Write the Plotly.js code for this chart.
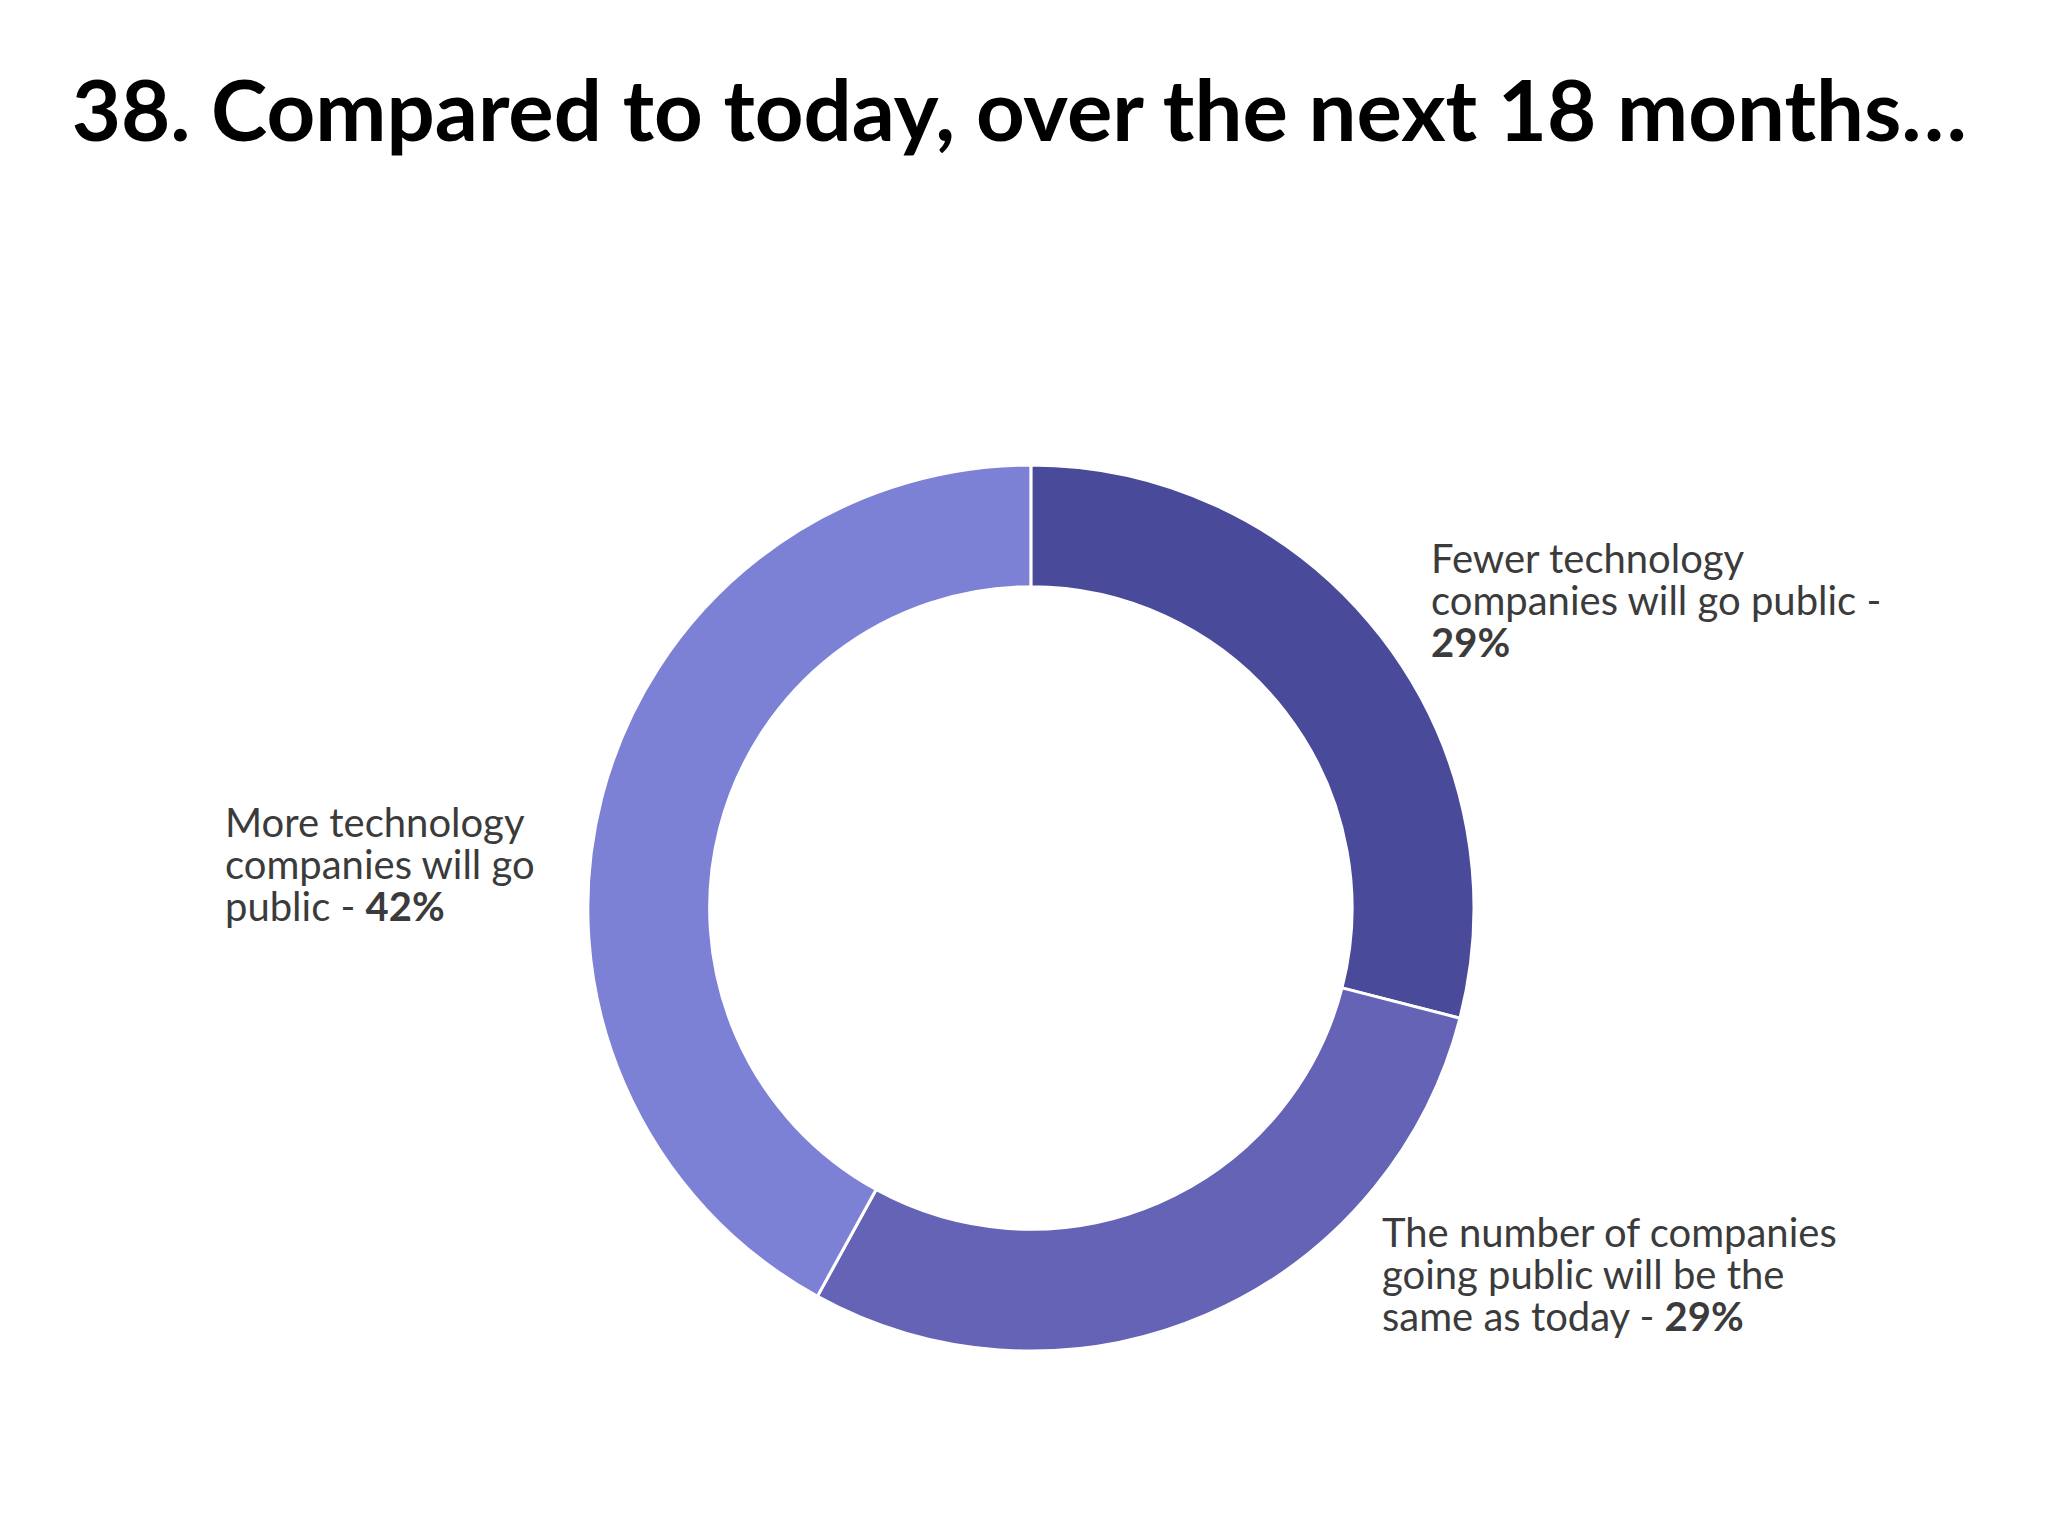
<!DOCTYPE html>
<html>
<head>
<meta charset="utf-8">
<script src="https://cdn.plot.ly/plotly-3.0.1.min.js"></script>
<style>
  body { margin: 0; background: #fff; }
  #chart { width: 2048px; height: 1536px; }
</style>
</head>
<body>
<div id="chart"></div>
<script>
// answers, clockwise from 12 o'clock
var answers = ['Fewer technology companies will go public',
               'The number of companies going public will be the same as today',
               'More technology companies will go public'];
var shares = [29, 29, 42];
var sliceColors = ['#4a4a9b', '#6563b5', '#7d81d5'];
// label text split the way the original wraps it
var labelLines = [
  ['Fewer technology', 'companies will go public -'],
  ['The number of companies', 'going public will be the', 'same as today -'],
  ['More technology', 'companies will go', 'public -']
];

var trace = {
  type: 'pie',
  labels: answers,
  values: shares,
  hole: 0.725,
  sort: false,
  direction: 'clockwise',
  rotation: 0,
  textinfo: 'none',
  hoverinfo: 'label+percent',
  marker: { colors: sliceColors, line: { color: '#ffffff', width: 3 } },
  domain: { x: [0.287, 0.7197], y: [0.1204, 0.6973] },
  showlegend: false
};

// label blocks: left edge (px), baseline of first line (px)
var labelPos = [
  { x: 1430, base: 573 },
  { x: 1381, base: 1247 },
  { x: 224, base: 837 }
];
var W = 2048, H = 1536, FS = 40, STEP = 42;

// one annotation per line so the leading stays as tight as the original;
// each box is exactly one step tall so neighbouring lines just touch
var annotations = [];
labelLines.forEach(function (lines, i) {
  var rows = lines.slice();
  if (i === 0) rows.push('<b>' + shares[i] + '%</b>');
  else rows[rows.length - 1] += ' <b>' + shares[i] + '%</b>';
  rows.forEach(function (row, j) {
    var mid = labelPos[i].base + j * STEP + 0.213 * FS - STEP / 2;
    annotations.push({
      xref: 'paper', yref: 'paper',
      x: labelPos[i].x / W, y: 1 - mid / H,
      xanchor: 'left', yanchor: 'middle', align: 'left',
      height: STEP, valign: 'bottom', borderpad: 0,
      showarrow: false,
      text: row,
      font: { family: 'Lato, sans-serif', size: FS, color: '#3b3b3b' }
    });
  });
});

var layout = {
  width: W,
  height: H,
  paper_bgcolor: '#ffffff',
  margin: { l: 0, r: 0, t: 0, b: 0 },
  title: {
    text: '<b>38. Compared to today, over the next 18 months…</b>',
    font: { family: 'Lato, sans-serif', size: 85, color: '#000000' },
    x: 0.035, xanchor: 'left',
    y: 0.9274, yanchor: 'middle'
  },
  annotations: annotations
};

Plotly.newPlot('chart', [trace], layout, { displayModeBar: false });
</script>
</body>
</html>
